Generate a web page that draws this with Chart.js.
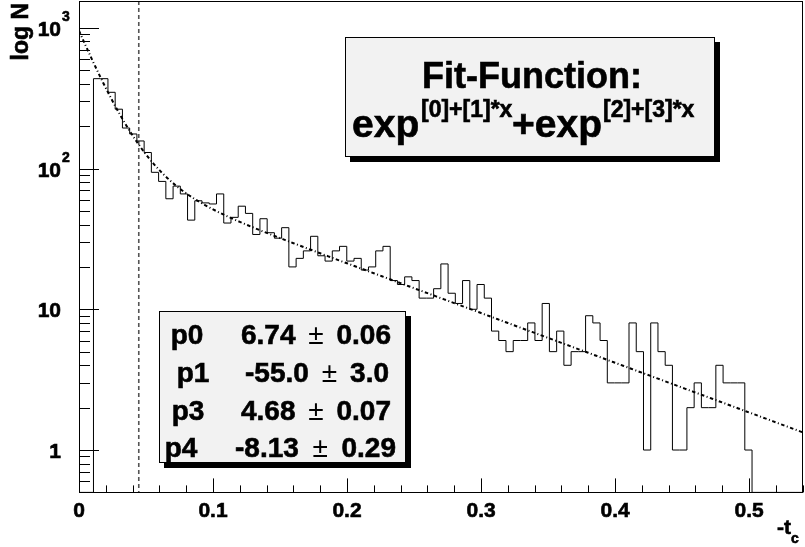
<!DOCTYPE html>
<html><head><meta charset="utf-8">
<script src="https://cdn.jsdelivr.net/npm/chart.js@4/dist/chart.umd.min.js"></script>
<style>html,body{margin:0;padding:0;background:#fff}#wrap{width:805px;height:547px}</style>
</head><body><div id="wrap"><canvas id="c" width="805" height="547"></canvas></div>
<script>
// Histogram of -t_c, 100 bins over [0, 0.54]
const binWidth = 0.0054;
const binCounts = [0,0,435,435,348,264,194,176,157,130,94,81,61,75,66,43,59,57,56,66,
  41,45,54,48,34,44,35,32,38,20,23,26,33,24,22,26,28,22,23,19,
  20,26,28,16,15,17,16,12,12,14,21,13,11,16,10,15,12,7,6,5,
  6,6,8,6,11,5,7,4,5,5,9,8,6,3,3,3,8,5,1,8,
  5,4,1,1,2,3,2,2,4,3,3,3,1,0,0,0,0,0,0,0];
const xRange = [0, 0.54];
const yRange = [0.5, 1550];
const xMajorTicks = [0, 0.1, 0.2, 0.3, 0.4, 0.5];
const xTickLabels = ['0', '0.1', '0.2', '0.3', '0.4', '0.5'];
const yMajorTicks = [1, 10, 100, 1000];
const yTickBase = ['1', '10', '10', '10'];
const yTickExp = ['', '', '2', '3'];
// fit: exp(p0 + p1*x) + exp(p3 + p4*x)
const fitNames = ['p0', 'p1', 'p3', 'p4'];
const fitValues = [6.74, -55.0, 4.68, -8.13];
const fitValueText = ['6.74', '-55.0', '4.68', '-8.13'];
const fitErrorText = ['0.06', '3.0', '0.07', '0.29'];
const cutValue = 0.0446;

const FONT = '"Liberation Sans", Arial, Helvetica, sans-serif';

const histPoints = binCounts.map((c, k) => ({ x: k * binWidth, y: c > 0 ? c : yRange[0] }));
histPoints.push({ x: binCounts.length * binWidth, y: histPoints[histPoints.length - 1].y });

const fitPoints = [];
for (let i = 0; i <= 270; i++) {
  const x = i * 0.002;
  fitPoints.push({ x, y: Math.exp(fitValues[0] + fitValues[1] * x) + Math.exp(fitValues[2] + fitValues[3] * x) });
}

function box(ctx, x0, y0, x1, y1) {
  ctx.fillStyle = '#000';
  ctx.fillRect(x0 + 5, y0 + 5, x1 - x0, y1 - y0);
  ctx.fillStyle = '#f2f2f2';
  ctx.fillRect(x0, y0, x1 - x0, y1 - y0);
  ctx.strokeStyle = '#000';
  ctx.lineWidth = 1;
  ctx.strokeRect(x0 + 0.5, y0 + 0.5, x1 - x0 - 1, y1 - y0 - 1);
}

// bold text with a slightly heavier stroke
function txt(ctx, s, x, y, font, align) {
  ctx.font = font;
  ctx.textAlign = align || 'left';
  ctx.fillText(s, x, y);
  ctx.lineWidth = 0.6;
  ctx.strokeText(s, x, y);
}

const decorations = {
  id: 'decorations',
  beforeDatasetsDraw(chart) {
    const { ctx, chartArea: a, scales: { x } } = chart;
    ctx.save();
    ctx.strokeStyle = '#555';
    ctx.lineWidth = 1.6;
    ctx.setLineDash([4, 3]);
    const cx = x.getPixelForValue(cutValue);
    ctx.beginPath(); ctx.moveTo(cx, a.top); ctx.lineTo(cx, a.bottom); ctx.stroke();
    ctx.restore();
  },
  afterDraw(chart) {
    const { ctx, chartArea: a, scales: { x, y } } = chart;
    ctx.save();
    ctx.strokeStyle = '#000';
    ctx.lineWidth = 1;
    ctx.strokeRect(Math.round(a.left) + 0.5, Math.round(a.top) + 0.5,
      Math.round(a.right - a.left) - 1, Math.round(a.bottom - a.top));
    ctx.beginPath();
    for (let v = 0; v <= xRange[1] + 1e-9; v += 0.02) {
      const px = Math.round(x.getPixelForValue(v)) + 0.5;
      const major = Math.abs(v * 10 - Math.round(v * 10)) < 1e-6;
      ctx.moveTo(px, a.bottom); ctx.lineTo(px, a.bottom - (major ? 14 : 7));
    }
    for (let e = -1; e <= 3; e++) {
      for (let n = 1; n <= 9; n++) {
        const v = n * Math.pow(10, e);
        if (v < yRange[0] - 1e-9 || v > yRange[1]) continue;
        const py = Math.round(y.getPixelForValue(v)) + 0.5;
        ctx.moveTo(a.left, py); ctx.lineTo(a.left + (n === 1 ? 20 : 11), py);
      }
    }
    ctx.stroke();

    ctx.fillStyle = '#000';
    ctx.strokeStyle = '#000';
    ctx.textBaseline = 'alphabetic';
    const F = (s) => 'bold ' + s + 'px ' + FONT;
    xMajorTicks.forEach((v, i) => txt(ctx, xTickLabels[i], x.getPixelForValue(v), 517, F(21), 'center'));
    yMajorTicks.forEach((v, i) => {
      const py = y.getPixelForValue(v);
      txt(ctx, yTickBase[i], 61, py + 8, F(21), 'right');
      if (yTickExp[i]) txt(ctx, yTickExp[i], 62, py - 7, F(14), 'left');
    });

    txt(ctx, '-t', 791, 534, F(21), 'right');
    txt(ctx, 'c', 791, 543, F(14), 'left');
    ctx.save();
    ctx.translate(28, 3);
    ctx.rotate(-Math.PI / 2);
    txt(ctx, 'log N', 0, 0, F(23), 'right');
    ctx.restore();

    // fit formula box
    box(ctx, 345, 37, 715, 157);
    ctx.fillStyle = '#000';
    txt(ctx, 'Fit-Function:', 532, 88, F(36), 'center');
    txt(ctx, 'exp', 352, 137, F(39), 'left');
    txt(ctx, '+exp', 512, 137, F(39), 'left');
    txt(ctx, '[0]+[1]*x', 421, 117, F(23), 'left');
    txt(ctx, '[2]+[3]*x', 603, 117, F(23), 'left');

    // fit parameter box
    box(ctx, 159, 311, 406, 463);
    const rowY = [344, 382, 420, 457];
    const nameC = [187, 193, 188, 181];
    const valX = [241, 245, 241, 235];
    const errX = [391, 389, 391, 396];
    ctx.fillStyle = '#000';
    fitNames.forEach((nm, i) => {
      txt(ctx, nm, nameC[i], rowY[i], F(28), 'center');
      txt(ctx, fitValueText[i], valX[i], rowY[i], F(28), 'left');
      const valEnd = valX[i] + ctx.measureText(fitValueText[i]).width;
      txt(ctx, fitErrorText[i], errX[i], rowY[i], F(28), 'right');
      const errStart = errX[i] - ctx.measureText(fitErrorText[i]).width;
      ctx.font = '28px ' + FONT;
      ctx.textAlign = 'center';
      ctx.fillText('\u00b1', (valEnd + errStart) / 2, rowY[i]);
    });
    ctx.restore();
  }
};

new Chart(document.getElementById('c'), {
  type: 'line',
  data: {
    datasets: [
      { data: histPoints, stepped: true, borderColor: '#000', borderWidth: 1,
        pointRadius: 0, fill: false, tension: 0 },
      { data: fitPoints, borderColor: '#000', borderWidth: 2, borderDash: [3.5, 2.5, 1, 2.5],
        pointRadius: 0, fill: false, tension: 0 }
    ]
  },
  options: {
    responsive: false,
    animation: false,
    devicePixelRatio: 1,
    layout: { padding: { left: 79, right: 2.3, top: 1, bottom: 54.6 } },
    plugins: { legend: { display: false }, tooltip: { enabled: false } },
    scales: {
      x: { type: 'linear', min: xRange[0], max: xRange[1], display: false },
      y: { type: 'logarithmic', min: yRange[0], max: yRange[1], display: false }
    }
  },
  plugins: [decorations]
});
</script>
</body></html>
